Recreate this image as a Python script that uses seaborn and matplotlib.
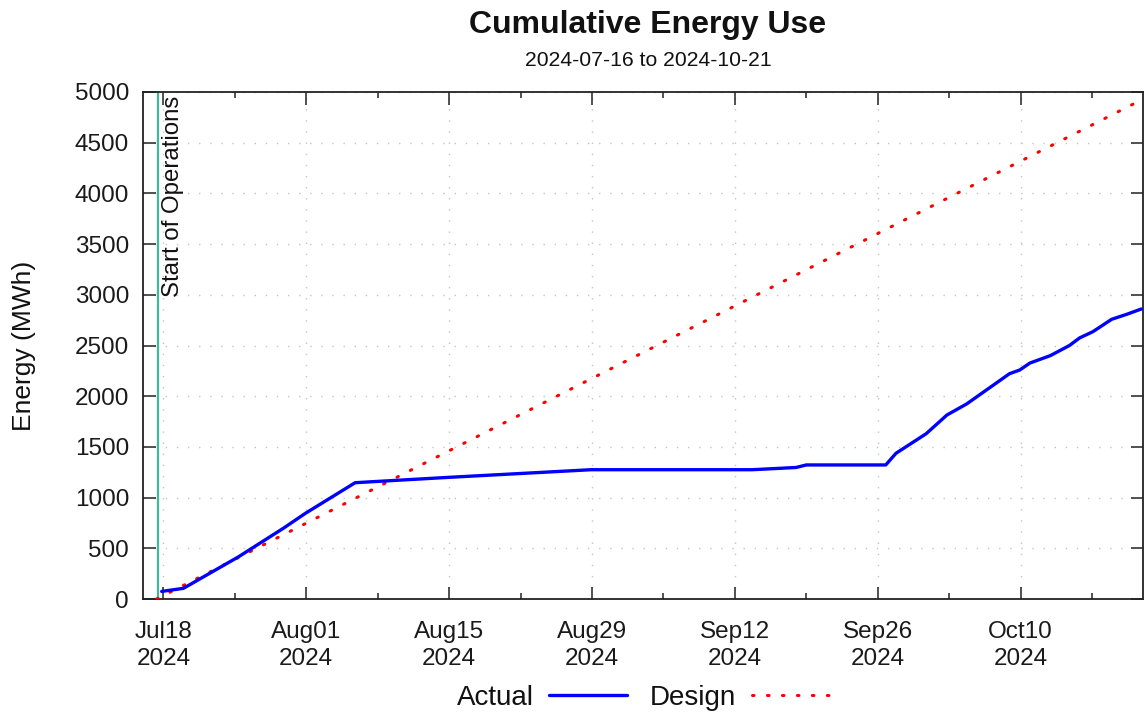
import pandas as pd
import matplotlib
matplotlib.use('Agg')
import matplotlib.pyplot as plt
import seaborn as sns

# values
actual_time = ['2024-07-17 20:00', '2024-07-19 23:00', '2024-07-25 09:00', '2024-07-29 19:00',
               '2024-07-31 22:00', '2024-08-05 19:00', '2024-08-15 00:00', '2024-08-28 22:00',
               '2024-09-13 17:00', '2024-09-18 00:00', '2024-09-19 00:00', '2024-09-26 19:00',
               '2024-09-27 19:00', '2024-09-30 18:00', '2024-10-02 19:00', '2024-10-04 17:00',
               '2024-10-07 14:00', '2024-10-08 22:00', '2024-10-09 22:00', '2024-10-10 22:00',
               '2024-10-12 22:00', '2024-10-14 19:00', '2024-10-15 19:00', '2024-10-17 02:00',
               '2024-10-18 02:00', '2024-10-18 22:00', '2024-10-20 10:00', '2024-10-21 20:00']
actual_mwh = [75, 105, 417, 700, 845, 1147, 1200, 1275,
              1275, 1297, 1322, 1322, 1437, 1630, 1815, 1923,
              2127, 2222, 2258, 2327, 2400, 2500, 2575, 2636,
              2702, 2758, 2808, 2860]

design_time = ['2024-07-17 08:00', '2024-10-22 00:00']
design_mwh = [0, 4930]

start_ops = '2024-07-17 12:00'
major_ticks = ['2024-07-18', '2024-08-01', '2024-08-15', '2024-08-29',
               '2024-09-12', '2024-09-26', '2024-10-10']
tick_labels = ['Jul18\n2024', 'Aug01\n2024', 'Aug15\n2024', 'Aug29\n2024',
               'Sep12\n2024', 'Sep26\n2024', 'Oct10\n2024']
y_ticks = [0, 500, 1000, 1500, 2000, 2500, 3000, 3500, 4000, 4500, 5000]

actual = pd.DataFrame({'time': pd.to_datetime(actual_time), 'mwh': actual_mwh})
design = pd.DataFrame({'time': pd.to_datetime(design_time), 'mwh': design_mwh})

sns.set_style('white')
plt.rcParams['font.family'] = ['Liberation Sans', 'DejaVu Sans']
plt.rcParams['text.color'] = '#111111'
plt.rcParams['axes.labelcolor'] = '#111111'

fig = plt.figure(figsize=(11.45, 7.15), dpi=100)
ax = fig.add_axes([143 / 1145, 1 - 599 / 715, 1000 / 1145, 507 / 715])

sns.lineplot(data=actual, x='time', y='mwh', ax=ax, color='#0000ff', linewidth=2.4,
             label='Actual', zorder=4)
sns.lineplot(data=design, x='time', y='mwh', ax=ax, color='#ff0000', linewidth=2.2,
             linestyle=(0, (0.5, 4.4)), dash_capstyle='round', label='Design', zorder=3)

ax.axvline(pd.Timestamp(start_ops), color='#3dba98', linewidth=1.6, zorder=2)
ax.annotate('Start of Operations', xy=(pd.Timestamp(start_ops), 5000), xytext=(3, -3),
            textcoords='offset points', rotation=90, ha='left', va='top', fontsize=17.3)

ax.set_xlim(pd.Timestamp('2024-07-16'), pd.Timestamp('2024-10-22'))
ax.set_ylim(0, 5000)
ax.set_yticks(y_ticks)
ax.set_xticks(pd.to_datetime(major_ticks))
ax.set_xticklabels(tick_labels, linespacing=1.3)
ax.set_xticks(pd.date_range('2024-07-25', '2024-10-21', freq='14D'), minor=True)

ax.grid(True, which='major', color='#c4c4c4', linestyle=(0, (1, 7)), linewidth=1)
ax.tick_params(which='major', direction='in', length=9, width=1.1,
               bottom=True, left=True, top=True, right=True,
               labelsize=17.5, colors='#222222', labelcolor='#1a1a1a')
ax.tick_params(axis='x', which='major', pad=16)
ax.tick_params(axis='y', which='major', pad=10)
ax.tick_params(which='minor', direction='in', length=4.5, width=1.1, top=True, bottom=True,
               colors='#222222')
for s in ax.spines.values():
    s.set_color('#222222')
    s.set_linewidth(1.3)

ax.set_xlabel('')
ax.set_ylabel('Energy (MWh)', fontsize=19)
ax.yaxis.set_label_coords(-0.107, 0.5)

fig.text(648 / 1145, 1 - 25 / 715, 'Cumulative Energy Use', ha='center', va='center',
         fontsize=23, fontweight='bold')
fig.text(648 / 1145, 1 - 60 / 715, '2024-07-16 to 2024-10-21', ha='center', va='center',
         fontsize=15.2)

ax.legend(loc='center', bbox_to_anchor=(0.5, -0.195), ncol=2, frameon=False,
          markerfirst=False, fontsize=20, handlelength=2.8, columnspacing=0.85,
          handletextpad=0.55)

fig.savefig('out.png', dpi=100)
